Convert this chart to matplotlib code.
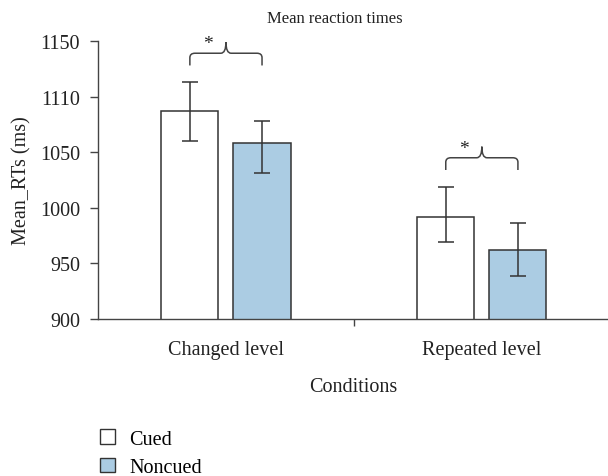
import matplotlib
matplotlib.use("Agg")
import matplotlib.pyplot as plt
from matplotlib.patches import Patch, PathPatch
from matplotlib.path import Path
import numpy as np

plt.rcParams['font.family'] = ['Liberation Serif', 'DejaVu Serif']

# data
conditions = ['Changed level', 'Repeated level']
series = ['Cued', 'Noncued']
cued_means = [1087, 992]
noncued_means = [1058, 962]
cued_err_low = [27, 23]
cued_err_high = [26, 27]
noncued_err_low = [27, 23]
noncued_err_high = [20, 24]
ytick_values = [900, 950, 1000, 1050, 1100, 1150]
ytick_labels = ['900', '950', '1000', '1050', '1110', '1150']

colors = ['white', '#abcce3']
edge = '#333333'
fs = 14.5

fig = plt.figure(figsize=(6.08, 4.77), dpi=100)
ax = fig.add_axes([98 / 608, 157 / 477, 510 / 608, 278 / 477])

x = np.arange(len(conditions))
w = 0.223
off = 0.141
means = [cued_means, noncued_means]
lows = [cued_err_low, noncued_err_low]
highs = [cued_err_high, noncued_err_high]
for i, s in enumerate(series):
    ax.bar(x + (2 * i - 1) * off, means[i], w, bottom=0, color=colors[i],
           edgecolor=edge, linewidth=1.1, label=s, zorder=2)
    ax.errorbar(x + (2 * i - 1) * off, means[i], yerr=[lows[i], highs[i]],
                fmt='none', ecolor='#333333', elinewidth=1.1, capsize=6,
                capthick=1.1, zorder=3)


def brace(x0, x1, yb):
    yh, yp = yb + 11, yb + 21
    xm = (x0 + x1) / 2
    rx, ry = 0.02, 4
    verts = [(x0, yb), (x0, yh - ry), (x0, yh), (x0 + rx, yh),
             (xm - rx, yh), (xm, yh), (xm, yp),
             (xm, yh), (xm + rx, yh),
             (x1 - rx, yh), (x1, yh), (x1, yh - ry), (x1, yb)]
    codes = [Path.MOVETO, Path.LINETO, Path.CURVE3, Path.CURVE3,
             Path.LINETO, Path.CURVE3, Path.CURVE3,
             Path.CURVE3, Path.CURVE3,
             Path.LINETO, Path.CURVE3, Path.CURVE3, Path.LINETO]
    ax.add_patch(PathPatch(Path(verts, codes), fill=False, edgecolor='#444444',
                           linewidth=1.1, clip_on=False))
    ax.text((x0 + xm) / 2, yh + 1, '*', ha='center', va='bottom',
            fontsize=14, color='#222222')


for j in range(len(conditions)):
    top = max(cued_means[j] + cued_err_high[j], noncued_means[j] + noncued_err_high[j])
    brace(x[j] - off, x[j] + off, top + 15)

ax.set_ylim(900, 1150)
ax.set_xlim(-0.5, 1.493)
ax.set_yticks(ytick_values, ytick_labels)
ax.set_xticks(x, conditions)
ax.set_xticks([0.5], minor=True)
ax.tick_params(axis='x', which='major', length=0, pad=15, labelsize=fs, colors='#222222')
ax.tick_params(axis='x', which='minor', length=5, width=1, color='#444444')
ax.tick_params(axis='y', length=6, width=1, color='#444444', labelsize=fs,
               labelcolor='#222222', pad=7)
for sp in ['top', 'right']:
    ax.spines[sp].set_visible(False)
for sp in ['left', 'bottom']:
    ax.spines[sp].set_color('#444444')
    ax.spines[sp].set_linewidth(1)

ax.set_ylabel('Mean_RTs (ms)', fontsize=fs, color='#222222', labelpad=6)
ax.set_xlabel('Conditions', fontsize=fs, color='#222222', labelpad=13)
fig.text(335 / 608, 1 - 19 / 477, 'Mean reaction times', ha='center', va='center',
         fontsize=12, color='#222222')

handles = [Patch(facecolor=colors[i], edgecolor=edge, linewidth=1, label=s)
           for i, s in enumerate(series)]
fig.legend(handles=handles, loc='upper left', bbox_to_anchor=(82 / 608, 1 - 412 / 477),
           frameon=False, fontsize=fs, handlelength=0.75, handleheight=0.75,
           handletextpad=0.7, labelspacing=0.45)

fig.savefig('out.png', dpi=100)
